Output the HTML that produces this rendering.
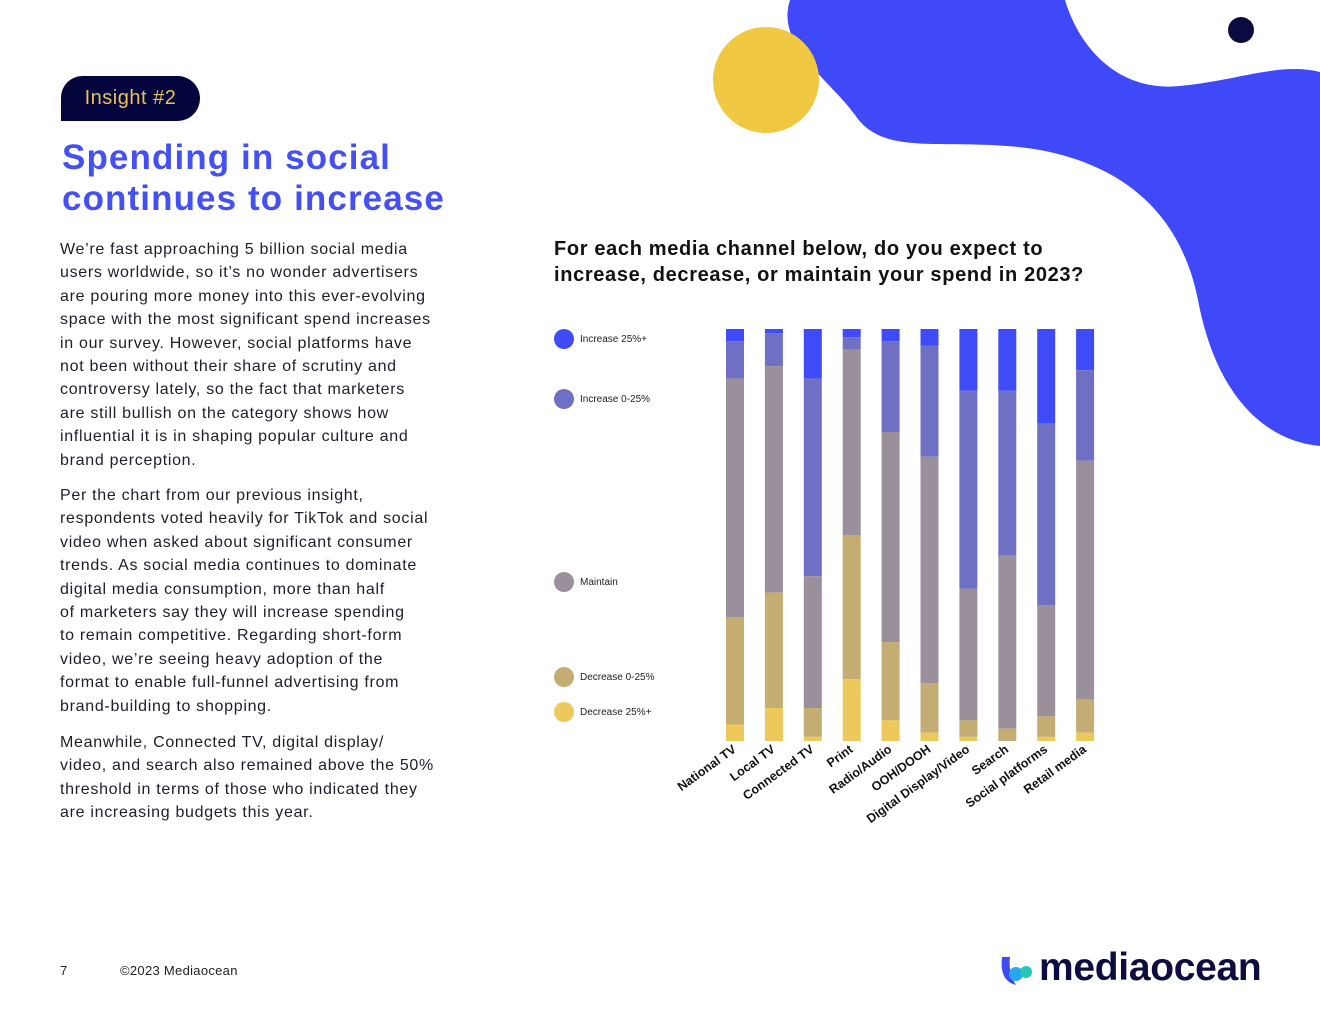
<!DOCTYPE html>
<html><head><meta charset="utf-8">
<style>
body{margin:0;width:1320px;height:1020px;overflow:hidden;background:#fff;font-family:"Liberation Sans",sans-serif;position:relative}
.abs{position:absolute}
#pill{left:61px;top:76px;width:139px;height:45px;background:#05053d;border-radius:22px 23px 23px 0;color:#e9c25a;font-size:20px;line-height:45px;text-align:center;letter-spacing:.5px}
#title{left:62px;top:137px;color:#4450f2;font-weight:bold;font-size:35px;line-height:41px;letter-spacing:1.1px}
.body{left:60px;color:#1e1e2a;font-size:16px;line-height:23.4px;letter-spacing:.7px;white-space:nowrap}
#q{left:554px;top:236px;font-size:20px;font-weight:bold;line-height:26px;color:#111;letter-spacing:.65px}
</style></head><body>
<svg class="abs" style="left:0;top:0" width="1320" height="1020">
<path d="M790,0 L1320,0 L1320,446 C1260,440 1215,390 1198,300 C1180,210 1120,165 1040,150 C950,135 885,160 855,115 C830,80 775,45 790,0 Z" fill="#4049f7"/>
<path d="M1065,0 C1080,50 1120,92 1180,86 C1240,80 1280,62 1320,72 L1320,0 Z" fill="#fff"/>
<circle cx="766" cy="80" r="53" fill="#f1c842"/>
<circle cx="1241" cy="30" r="13" fill="#0b0b3f"/>
</svg>
<div id="pill" class="abs">Insight #2</div>
<div id="title" class="abs">Spending in social<br>continues to increase</div>
<div class="abs body" style="top:238px">We’re fast approaching 5 billion social media<br>users worldwide, so it’s no wonder advertisers<br>are pouring more money into this ever-evolving<br>space with the most significant spend increases<br>in our survey. However, social platforms have<br>not been without their share of scrutiny and<br>controversy lately, so the fact that marketers<br>are still bullish on the category shows how<br>influential it is in shaping popular culture and<br>brand perception.</div>
<div class="abs body" style="top:484px">Per the chart from our previous insight,<br>respondents voted heavily for TikTok and social<br>video when asked about significant consumer<br>trends. As social media continues to dominate<br>digital media consumption, more than half<br>of marketers say they will increase spending<br>to remain competitive. Regarding short-form<br>video, we’re seeing heavy adoption of the<br>format to enable full-funnel advertising from<br>brand-building to shopping.</div>
<div class="abs body" style="top:731px">Meanwhile, Connected TV, digital display/<br>video, and search also remained above the 50%<br>threshold in terms of those who indicated they<br>are increasing budgets this year.</div>
<div id="q" class="abs">For each media channel below, do you expect to<br>increase, decrease, or maintain your spend in 2023?</div>
<svg id="chart" class="abs" style="left:0;top:0" width="1320" height="1020"></svg>
<div class="abs" style="left:60px;top:963px;font-size:13px;color:#222">7</div>
<div class="abs" style="left:120px;top:963px;font-size:13px;color:#222;letter-spacing:.3px">©2023 Mediaocean</div>
<div class="abs" style="left:998px;top:951px;width:270px;height:40px">
<svg width="40" height="40" style="position:absolute;left:0;top:0"><path d="M4,6 Q1,30 18,34 Q10,22 12,6 Z" fill="#3f4bf0"/><circle cx="18" cy="23" r="7" fill="#27a7f0"/><circle cx="28" cy="21" r="6" fill="#26c7b8"/></svg>
<div style="position:absolute;left:41px;top:-5px;font-size:39px;font-weight:bold;color:#0c0c40;letter-spacing:-.3px">mediaocean</div>
</div>
<script>
const categories=["National TV","Local TV","Connected TV","Print","Radio/Audio","OOH/DOOH","Digital Display/Video","Search","Social platforms","Retail media"];
const inc25=[3,1,12,2,3,4,15,15,23,10];
const inc0_25=[9,8,48,3,22,27,48,40,44,22];
const maintain=[58,55,32,45,51,55,32,42,27,58];
const dec0_25=[26,28,7,35,19,12,4,3,5,8];
const dec25=[4,8,1,15,5,2,1,0,1,2];
const seriesNames=["Increase 25%+","Increase 0-25%","Maintain","Decrease 0-25%","Decrease 25%+"];
const colors=["#3f4bf7","#6f6fc4","#9a909b","#c4ad72","#ecc95a"];
const ns="http://www.w3.org/2000/svg";
const svg=document.getElementById('chart');
const top0=329,bot0=741,x0=726,step=38.9,bw=18;
const yS=v=>v/100*(bot0-top0);
const xS=i=>x0+i*step;
const series=[inc25,inc0_25,maintain,dec0_25,dec25];
categories.forEach((c,i)=>{
  const tot=series.reduce((a,s)=>a+s[i],0);
  let y=top0;
  series.forEach((s,k)=>{
    const h=yS(s[i]/tot*100);
    const r=document.createElementNS(ns,'rect');
    r.setAttribute('x',xS(i));r.setAttribute('y',y);r.setAttribute('width',bw);r.setAttribute('height',h);r.setAttribute('fill',colors[k]);
    
    
    svg.appendChild(r);y+=h;
  });
  const t=document.createElementNS(ns,'text');
  const cx=xS(i)+bw/2+2,cy=bot0+10;
  t.setAttribute('x',cx);t.setAttribute('y',cy);t.setAttribute('text-anchor','end');
  t.setAttribute('transform',`rotate(-36 ${cx} ${cy})`);
  t.setAttribute('font-size','12.5');t.setAttribute('font-weight','bold');t.setAttribute('fill','#111');
  t.setAttribute('font-family','Liberation Sans, sans-serif');
  t.textContent=c;
  
  
  svg.appendChild(t);
});
const legY=[339,399,582,677,712];
seriesNames.forEach((n,k)=>{
  const g=document.createElementNS(ns,'g');
  
  
  const c=document.createElementNS(ns,'circle');
  c.setAttribute('cx',564);c.setAttribute('cy',legY[k]);c.setAttribute('r',10);c.setAttribute('fill',colors[k]);
  const t=document.createElementNS(ns,'text');
  t.setAttribute('x',580);t.setAttribute('y',legY[k]+3);t.setAttribute('font-size','10');t.setAttribute('fill','#222');
  t.setAttribute('font-family','Liberation Sans, sans-serif');t.textContent=n;
  g.appendChild(c);g.appendChild(t);svg.appendChild(g);
});
</script>
</body></html>
